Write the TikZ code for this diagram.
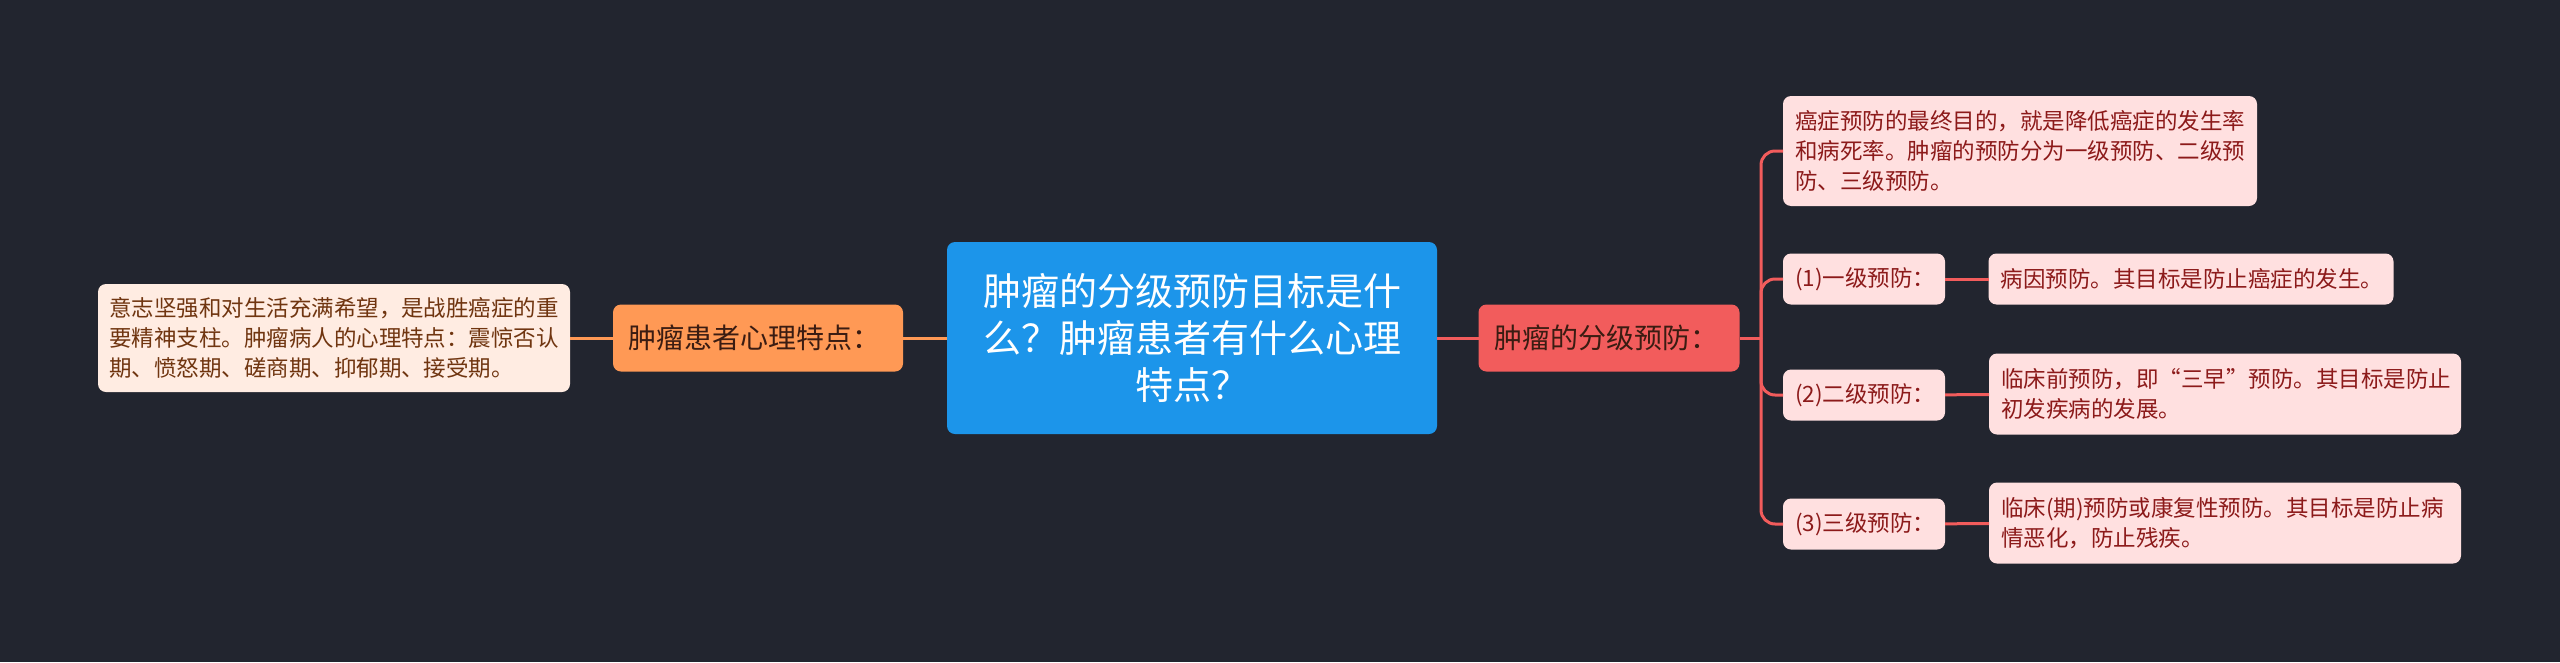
\documentclass[tikz,border=0pt]{standalone}
\usepackage{fontspec}
\setmainfont{Noto Sans CJK SC}
\usepackage{tikz}
\definecolor{bgcol}{HTML}{22252F}
\definecolor{rootcol}{HTML}{1C95EA}
\definecolor{orangecol}{HTML}{FF9955}
\definecolor{redcol}{HTML}{F25C5C}
\definecolor{pinkcol}{HTML}{FFE0E0}
\definecolor{peachcol}{HTML}{FFECE2}
\definecolor{pinktext}{HTML}{8C1A1A}
\definecolor{peachtext}{HTML}{703510}
\definecolor{darktext}{HTML}{3A1C12}
\tikzstyle{box}=[rounded corners=8pt, inner sep=0pt, outer sep=0pt]
\tikzstyle{root}=[box, fill=rootcol, text=white, minimum width=490pt, minimum height=192pt,
    text width=440pt, align=center, font=\fontsize{38}{47}\selectfont]
\tikzstyle{branch}=[box, minimum height=67pt, text=darktext, align=left,
    font=\fontsize{28}{34}\selectfont]
\tikzstyle{leaf}=[box, fill=pinkcol, text=pinktext, align=left,
    font=\fontsize{22.5}{30}\selectfont]
\tikzstyle{wire}=[line width=3pt]
\newcommand{\leafnode}{\node[leaf]}

\begin{document}
\begin{tikzpicture}[x=1pt,y=-1pt]
            \useasboundingbox[fill=bgcol] (0,0) rectangle (2560,662);
            \node[root] (root) at (1192,338) {肿瘤的分级预防目标是什\\么？肿瘤患者有什么心理\\特点？};
            \node[branch, fill=orangecol, minimum width=290pt, text width=260pt] (psych) at (758,338) {肿瘤患者心理特点：};
            \leafnode[fill=peachcol, text=peachtext, minimum width=472pt, minimum height=108pt, text width=450pt] (psychtext) at (334,338) {意志坚强和对生活充满希望，是战胜癌症的重\\要精神支柱。肿瘤病人的心理特点：震惊否认\\期、愤怒期、磋商期、抑郁期、接受期。};
            \node[branch, fill=redcol, minimum width=261pt, text width=229pt] (prev) at (1609,338) {肿瘤的分级预防：};
            \leafnode[minimum width=474pt, minimum height=110pt, text width=450pt] (goal) at (2020,151) {癌症预防的最终目的，就是降低癌症的发生率\\和病死率。肿瘤的预防分为一级预防、二级预\\防、三级预防。};
            \leafnode[minimum width=162pt, minimum height=51pt, text width=138pt] (lvla) at (1864,279) {(1)一级预防：};
            \leafnode[minimum width=405pt, minimum height=51pt, text width=381pt] (lvlatext) at (2191,279) {病因预防。其目标是防止癌症的发生。};
            \leafnode[minimum width=162pt, minimum height=51pt, text width=138pt] (lvlb) at (1864,395) {(2)二级预防：};
            \leafnode[minimum width=472pt, minimum height=81pt, text width=448pt] (lvlbtext) at (2225,394) {临床前预防，即“三早”预防。其目标是防止\\初发疾病的发展。};
            \leafnode[minimum width=162pt, minimum height=51pt, text width=138pt] (lvlc) at (1864,524) {(3)三级预防：};
            \leafnode[minimum width=472pt, minimum height=81pt, text width=448pt] (lvlctext) at (2225,523) {临床(期)预防或康复性预防。其目标是防止病\\情恶化，防止残疾。};
            \coordinate (trunk) at (1761,338);
            % left side
            \path[wire, draw=orangecol]
                (root) edge (psych)
                (psych) edge (psychtext)
            ;
            % right side
            \draw[wire, redcol] (root) -- (prev);
            \draw[wire, redcol] (prev.east) -- (trunk);
            \foreach \kid in {goal,lvla,lvlb,lvlc}
                \draw[wire, redcol, rounded corners=14pt] (trunk) |- (\kid.west);
            \path[wire, draw=redcol]
                (lvla) edge (lvlatext)
                (lvlb) edge (lvlbtext)
                (lvlc) edge (lvlctext)
            ;
        \end{tikzpicture}
\end{document}
